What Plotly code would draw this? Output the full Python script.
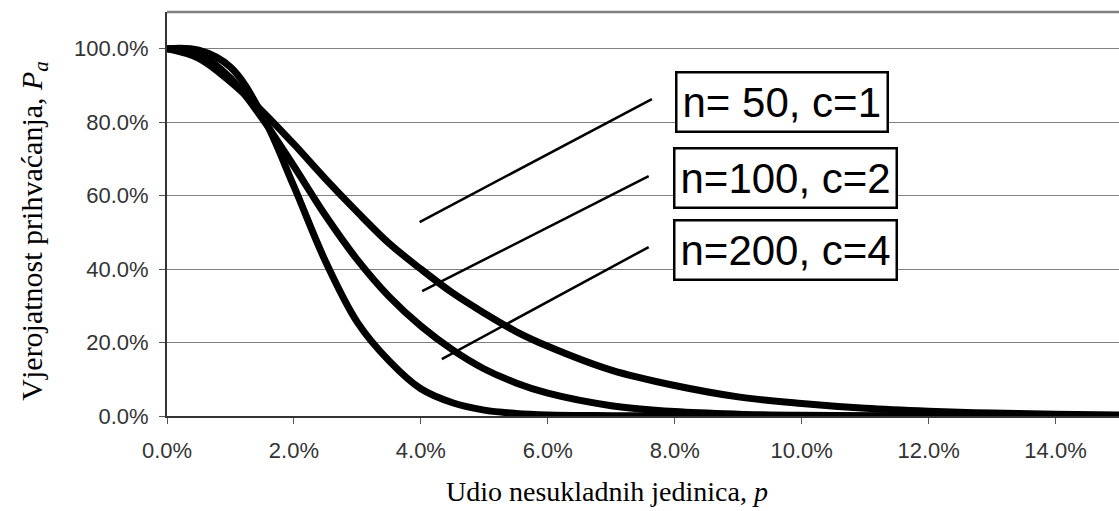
import plotly.graph_objects as go

# Udio nesukladnih jedinica p (%) - zajednicka os x
p = [0, 0.5, 1, 1.5, 2, 2.5, 3, 3.5, 4, 4.5, 5, 5.5, 6, 7, 8, 9, 10, 11, 12, 13, 14, 15]

# Vjerojatnost prihvacanja Pa (%) ocitana sa slike
pa_50 = [100, 97.4, 91, 83, 74, 64.5, 55.5, 47, 40, 33.5, 28, 23, 19, 12.5, 8.3, 5.2, 3.4, 2.1, 1.3, 0.8, 0.5, 0.3]
pa_100 = [100, 98.6, 92, 81, 68, 54.5, 42.5, 32.5, 24.5, 18, 12.8, 9, 6.2, 2.8, 1.2, 0.5, 0.2, 0.1, 0, 0, 0, 0]
pa_200 = [100, 99.6, 95, 82, 62.5, 42, 25.5, 15, 7.4, 3.6, 1.6, 0.7, 0.3, 0.1, 0, 0, 0, 0, 0, 0, 0, 0]

# Oznake planova i krajevi linija (x0, y0, x1, y1) u jedinicama osi
labels = ["n= 50, c=1", "n=100, c=2", "n=200, c=4"]
label_pos = [(9.69, 85.6), (9.74, 64.9), (9.74, 45.3)]
leaders = [(3.98, 52.8, 7.64, 86.3), (4.02, 34.0, 7.59, 65.3), (4.33, 15.5, 7.59, 46.0)]

y_ticks = [0, 20, 40, 60, 80, 100]
x_ticks = [0, 2, 4, 6, 8, 10, 12, 14]

fig = go.Figure()

for pa in [pa_50, pa_100, pa_200]:
    fig.add_trace(go.Scatter(x=p, y=pa, mode="lines", line=dict(color="black", width=7, shape="spline"),
                             showlegend=False))

# linije do oznaka
for x0, y0, x1, y1 in leaders:
    fig.add_shape(type="line", x0=x0, y0=y0, x1=x1, y1=y1, line=dict(color="black", width=2.5))

for txt, (lx, ly) in zip(labels, label_pos):
    fig.add_annotation(x=lx, y=ly, text=txt, showarrow=False,
                       font=dict(family="Liberation Sans, Arial", size=42, color="black"),
                       bgcolor="white", bordercolor="black", borderwidth=2.5, borderpad=5)

# gornji rub
fig.add_shape(type="line", xref="paper", yref="paper", x0=0, x1=1, y0=1, y1=1,
              line=dict(color="#808080", width=2.5))

fig.add_annotation(xref="paper", yref="paper", x=0.462, y=-0.188, xanchor="center", yanchor="middle",
                   text="Udio nesukladnih jedinica, <i>p</i>", showarrow=False,
                   font=dict(family="Liberation Serif, Times New Roman", size=28, color="black"))
fig.add_annotation(xref="paper", yref="paper", x=-0.140, y=0.458, xanchor="center", yanchor="middle",
                   textangle=-90,
                   text="Vjerojatnost prihvaćanja, <i>P<sub>a</sub></i>", showarrow=False,
                   font=dict(family="Liberation Serif, Times New Roman", size=30, color="black"))

fig.update_xaxes(range=[0, 15], tickvals=x_ticks, ticktext=[f"{v:.1f}%" for v in x_ticks],
                 showgrid=False, zeroline=False, showline=True, linecolor="#333", linewidth=2,
                 ticks="outside", ticklen=6, tickcolor="#555", ticklabelstandoff=8,
                 tickfont=dict(family="Liberation Sans, Arial", size=22, color="#333"))
fig.update_yaxes(range=[0, 110], tickvals=y_ticks, ticktext=[f"{v:.1f}%" for v in y_ticks],
                 showgrid=True, gridcolor="#808080", gridwidth=1, zeroline=False,
                 showline=True, linecolor="#333", linewidth=2,
                 ticks="outside", ticklen=6, tickcolor="#555", ticklabelstandoff=6,
                 tickfont=dict(family="Liberation Sans, Arial", size=22, color="#333"))

fig.update_layout(width=1119, height=511, margin=dict(l=167, r=0, t=12, b=95),
                  plot_bgcolor="white", paper_bgcolor="white")

fig.write_html("out.html", config={"displayModeBar": False},
               post_script="document.body.style.margin='0';")
